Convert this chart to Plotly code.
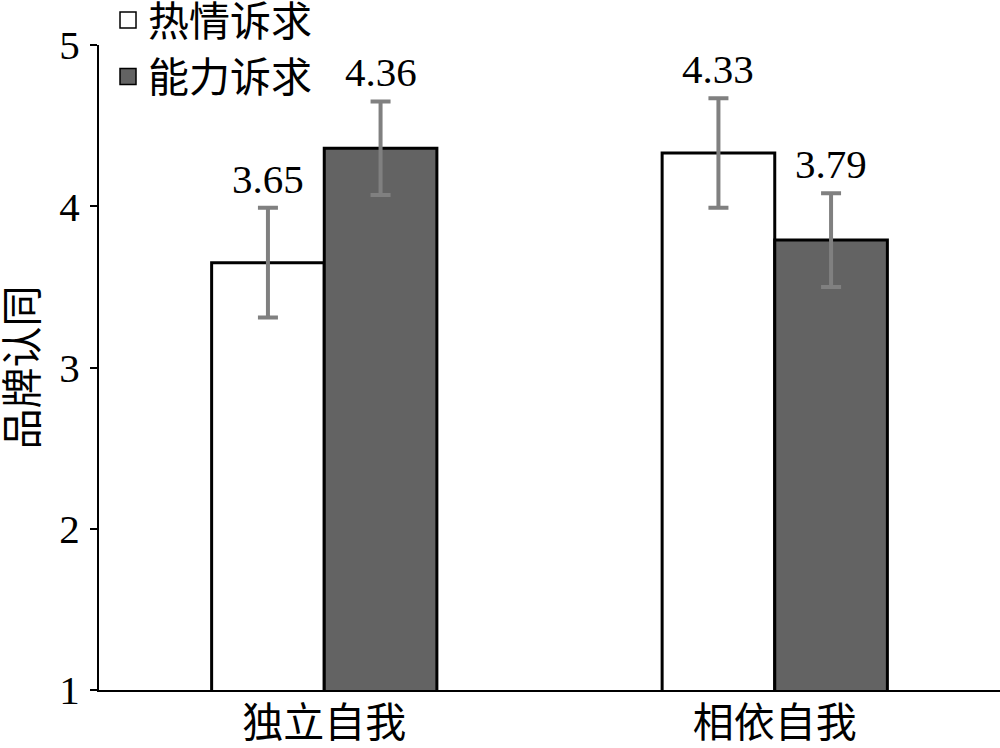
import plotly.graph_objects as go

categories = ["独立自我", "相依自我"]
series_names = ["热情诉求", "能力诉求"]
warmth = [3.65, 4.33]
competence = [4.36, 3.79]
warmth_err = [0.34, 0.34]
competence_err = [0.29, 0.29]
y_ticks = [1, 2, 3, 4, 5]

SERIF = "Liberation Serif, Times New Roman, Noto Sans CJK SC"
FS = 41
colors = ["#ffffff", "#636363"]

fig = go.Figure()
for name, vals, errs, col in [
    (series_names[0], warmth, warmth_err, colors[0]),
    (series_names[1], competence, competence_err, colors[1]),
]:
    fig.add_trace(go.Bar(
        x=categories, y=vals, name=name, showlegend=False,
        marker=dict(color=col, line=dict(color="black", width=3)),
        error_y=dict(type="data", array=errs, visible=True,
                     color="#808080", thickness=4, width=10),
    ))
    # legend proxy with larger square key
    fig.add_trace(go.Scatter(
        x=[None], y=[None], mode="markers", name=name,
        marker=dict(symbol="square", size=16, color=col,
                    line=dict(color="black", width=1.5)),
    ))

bar_w = (1 - 0.5) / 2
for k, (vals, errs) in enumerate([(warmth, warmth_err), (competence, competence_err)]):
    off = (k - 0.5) * bar_w
    for i, (v, e) in enumerate(zip(vals, errs)):
        fig.add_annotation(
            x=i + off, y=v + e, xref="x", yref="y",
            text=f"{v:.2f}", showarrow=False,
            yanchor="bottom", yshift=4,
            font=dict(family=SERIF, size=FS, color="black"),
        )

fig.update_layout(
    width=1000, height=748,
    margin=dict(l=99, r=0, t=45, b=58, autoexpand=False),
    paper_bgcolor="white", plot_bgcolor="white",
    barmode="group", bargap=0.5, bargroupgap=0,
    font=dict(family=SERIF, size=FS, color="black"),
    legend=dict(
        x=0.01, y=1.09, xanchor="left", yanchor="top",
        bgcolor="rgba(0,0,0,0)",
        font=dict(family=SERIF, size=FS, color="black"),
        itemwidth=30, tracegroupgap=0,
    ),
    xaxis=dict(
        type="category", range=[-0.5, 1.5],
        showline=True, linecolor="black", linewidth=2,
        ticks="", showgrid=False, zeroline=False,
        ticklabelstandoff=-4,
        tickfont=dict(family=SERIF, size=FS, color="black"),
    ),
    yaxis=dict(
        range=[1, 5], tickvals=y_ticks,
        showline=True, linecolor="black", linewidth=2,
        ticks="outside", ticklen=7, tickwidth=2, tickcolor="black",
        ticklabelstandoff=2,
        showgrid=False, zeroline=False,
        tickfont=dict(family=SERIF, size=FS, color="black"),
        title=dict(text="品牌认同", standoff=12,
                   font=dict(family=SERIF, size=FS, color="black")),
    ),
)

fig.write_html(
    "out.html",
    config={"displayModeBar": False},
    post_script="document.body.style.margin='0';document.body.style.overflow='hidden';",
)
